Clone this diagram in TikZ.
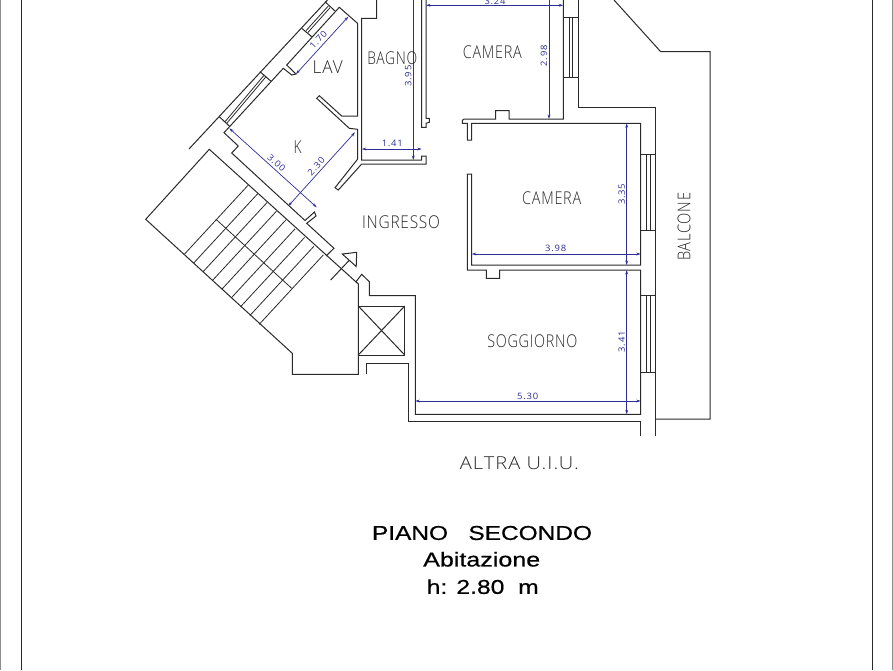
\documentclass[tikz,border=0pt]{standalone}
\usepackage{graphicx}
\usepackage{fontspec}
\setmainfont{Liberation Sans}
\newfontfamily\titlefont[FakeBold=0.5]{Liberation Sans}
\newfontfamily\cadfont[LetterSpace=5]{Open Sans Light}
\newfontfamily\dimfont[LetterSpace=8]{Open Sans}
\newcommand{\cadtxt}[3]{\resizebox{#1pt}{#2pt}{\cadfont #3}}
\newcommand{\dimtxt}[1]{\resizebox{21pt}{6.4pt}{\dimfont #1}}
\definecolor{wallc}{HTML}{2A2A2A}
\definecolor{dimc}{HTML}{2E2E96}
\tikzset{
 wall/.style={draw=wallc,line width=1pt,line join=miter},
 thin wall/.style={draw=wallc,line width=0.8pt},
 dimline/.style={draw=dimc,line width=0.7pt,<->,>={Stealth[length=4.5pt,width=2.8pt]}},
 dimlabel/.style={text=dimc,inner sep=0pt},
 roomlabel/.style={text=wallc,inner sep=0pt},
 titlelabel/.style={text=black,inner sep=0pt},
 frameline/.style={draw=wallc,line width=1pt},
 faintline/.style={draw=black!45,line width=0.8pt}
}
\usetikzlibrary{arrows.meta}
\begin{document}
\begin{tikzpicture}[x=1pt,y=-1pt]
\useasboundingbox (0,0) rectangle (893,670);
\fill[white] (0,0) rectangle (893,670);
% frame
\draw[frameline] (21,0) -- (21,670);
\draw[frameline] (872,0) -- (872,670);
\draw[faintline] (0.3,0) -- (0.3,670);
\draw[faintline] (892.5,0) -- (892.5,670);
% outer diagonal facade
\draw[wall] (189,149) -- (327.5,0);
\draw[wall] (219.3,116.7) -- (230,126.7);
\draw[wall] (260,71.7) -- (270.7,81);
\draw[thin wall] (225,121.7) -- (264.3,75);
\draw[thin wall] (226.7,123.3) -- (266,76.7);
\draw[wall] (301.7,28.3) -- (311.7,36.7);
\draw[wall] (325,1.7) -- (335,11);
\draw[thin wall] (306,30.7) -- (328.3,6);
\draw[thin wall] (307.7,32.7) -- (330,7.7);
% kitchen / lav wall
\draw[wall] (238.3,146) -- (224,132.7) -- (283.3,68.3) -- (291.7,75) -- (296,74) -- (286.7,65) -- (339.3,7.3) -- (357.5,23.3) -- (357.5,116) -- (341.7,116) -- (319.3,95.7) -- (316.7,98.3) -- (349.3,128.3) -- (357.5,129.3) -- (357.5,159.3) -- (335,187.7) -- (338.3,190) -- (361.7,164) -- (426,164) -- (426,156) -- (421.7,156) -- (421.7,160) -- (361.7,160) -- (361.7,18.3) -- (376.7,18.3) -- (376.7,0);
\draw[wall] (238.3,146) -- (231.7,153) -- (305,220.5) -- (314.5,212) -- (316,216) -- (306.7,223.3) -- (334,248.3) -- (326,256);
% bagno / camera wall
\draw[wall] (421.7,0) -- (421.7,127.3) -- (426,127.3) -- (426,123.3) -- (429.3,122.3) -- (429.3,118.3) -- (426,118.3) -- (426,0);
% camera 1
\draw[wall] (563.3,0) -- (563.3,119) -- (509,119) -- (509,110.7) -- (495.7,110.7) -- (495.7,119) -- (464,119) -- (462.3,120.5) -- (462.3,123.3) -- (467.3,123.3) -- (467.3,140) -- (471.7,140) -- (471.7,123.3) -- (640.7,123.3) -- (640.7,265) -- (471.7,265) -- (471.7,174) -- (467.3,174) -- (467.3,270) -- (486.3,270) -- (486.3,278.3) -- (499.7,278.3) -- (499.7,270) -- (640.7,270) -- (640.7,414.3) -- (415.3,414.3) -- (415.3,295.7) -- (369.3,295.7) -- (369.3,281.7) -- (361.7,274.3) -- (356,281.7) -- (358.3,284) -- (358.3,374.3) -- (292.3,374.3) -- (292.3,353.3) -- (145.7,219.3) -- (209.3,149.3) -- (358.3,284);
\draw[wall] (578.3,0) -- (578.3,107.7) -- (655.6,107.7) -- (655.6,436);
% windows
\draw[wall] (563.3,17.3) -- (578.3,17.3) (563.3,77.3) -- (578.3,77.3);
\draw[thin wall] (569,17.3) -- (569,77.3) (572.7,17.3) -- (572.7,77.3);
\draw[wall] (640.7,154.3) -- (655.6,154.3) (640.7,230.7) -- (655.6,230.7);
\draw[thin wall] (646,154.3) -- (646,230.7) (650,154.3) -- (650,230.7);
\draw[wall] (640.7,295.7) -- (655.6,295.7) (640.7,372) -- (655.6,372);
\draw[thin wall] (646,295.7) -- (646,372) (650,295.7) -- (650,372);
% balcony
\draw[wall] (614,0) -- (660.7,51.7) -- (710,51.7) -- (710,419) -- (655.6,419);
% lower wall
\draw[wall] (366.7,374.3) -- (366.7,363.3) -- (408.3,363.3) -- (408.3,421) -- (640.7,421) -- (640.7,436);
% lift
\draw[wall] (358.3,306) rectangle (404.7,355);
\draw[wall] (358.3,306) -- (404.7,355) (358.3,355) -- (404.7,306);
% stairs
\foreach \i in {0,...,8}{
 \draw[thin wall] ({184.3+9.37*\i},{254.3+8.75*\i}) -- ({248.3+9.37*\i},{185+8.75*\i});
}
\draw[thin wall] (216,219.3) -- (291.7,288.3);
% entrance arrow
\draw[wall] (330.7,280) -- (349.5,260) (342.3,254) -- (356.7,252.3) -- (356.2,266.5) -- cycle;
% dimensions
\draw[dimline] (229.3,128.3) -- (316.7,207.3);
\draw[dimline] (288.3,206) -- (355,132.3);
\draw[dimline] (296,74) -- (348.3,16.7);
\draw[dimline] (361.7,149) -- (421.7,149);
\draw[dimline] (413.3,-6) -- (413.3,160);
\draw[dimline] (426,5.3) -- (563.3,5.3);
\draw[dimline] (549,-6) -- (549,119);
\draw[dimline] (626.7,123.3) -- (626.7,265);
\draw[dimline] (471.7,254) -- (640.7,254);
\draw[dimline] (626.7,270) -- (626.7,414.3);
\draw[dimline] (415.3,401) -- (640.7,401);
% dimension labels
\node[dimlabel,rotate=-42] (d300) at (276.5,163) {\dimtxt{3.00}};
\node[dimlabel,rotate=48] (d230) at (316.2,166.2) {\dimtxt{2.30}};
\node[dimlabel,rotate=48] (d170) at (318.3,40) {\dimtxt{1.70}};
\node[dimlabel] (d141) at (392.3,143.7) {\dimtxt{1.41}};
\node[dimlabel,rotate=90] (d395) at (408.3,76) {\dimtxt{3.95}};
\node[dimlabel] (d324) at (495,1) {\dimtxt{3.24}};
\node[dimlabel,rotate=90] (d298) at (544,55.7) {\dimtxt{2.98}};
\node[dimlabel,rotate=90] (d335) at (621.7,194.3) {\dimtxt{3.35}};
\node[dimlabel] (d398) at (555.7,248.7) {\dimtxt{3.98}};
\node[dimlabel,rotate=90] (d341) at (621.7,341.7) {\dimtxt{3.41}};
\node[dimlabel] (d530) at (527.7,396) {\dimtxt{5.30}};
% room labels
\node[roomlabel] (bagno) at (392.3,57.7) {\cadtxt{50}{12.8}{BAGNO}};
\node[roomlabel] (lav) at (327.7,66.7) {\cadtxt{30}{12.8}{LAV}};
\node[roomlabel] (k) at (297.7,146.7) {\cadtxt{8}{12.8}{K}};
\node[roomlabel] (cam1) at (492.3,52.3) {\cadtxt{59}{12.8}{CAMERA}};
\node[roomlabel] (cam2) at (551.7,197.7) {\cadtxt{59}{12.8}{CAMERA}};
\node[roomlabel] (ing) at (401,222) {\cadtxt{78}{12.8}{INGRESSO}};
\node[roomlabel,rotate=90] (bal) at (684,226.7) {\cadtxt{68}{12.8}{BALCONE}};
\node[roomlabel] (sog) at (532.3,340.7) {\cadtxt{90}{12.8}{SOGGIORNO}};
\node[roomlabel] (alt) at (519.3,462.7) {\cadtxt{119}{12.8}{ALTRA U.I.U.}};
% title
\node[titlelabel] (t1) at (482,533) {\resizebox{220pt}{14pt}{\titlefont PIANO\ \ \ SECONDO}};
\node[titlelabel] (t2) at (481.7,559.3) {\resizebox{117pt}{14.5pt}{\titlefont Abitazione}};
\node[titlelabel] (t3) at (482.7,586.7) {\resizebox{112pt}{14.5pt}{\titlefont h: 2.80\ \ m}};
\end{tikzpicture}
\end{document}
